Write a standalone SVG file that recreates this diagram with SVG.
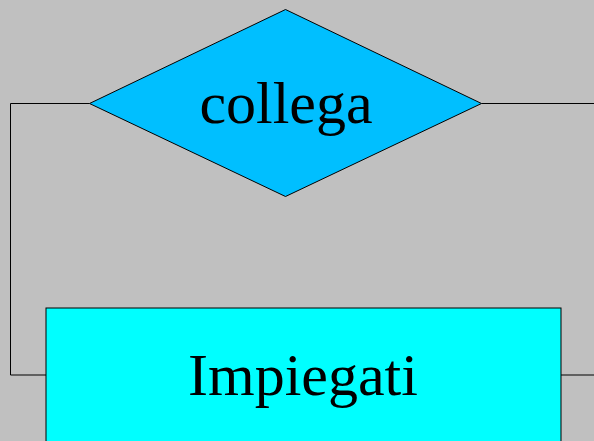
<svg xmlns="http://www.w3.org/2000/svg" width="594" height="441" viewBox="0 0 594 441">
<style>
.conn{fill:none;stroke:#000;stroke-width:1}
.lbl{font-family:"Liberation Serif","Times New Roman",serif;font-size:60px;fill:#000;text-anchor:middle}
</style>
<rect x="0" y="0" width="594" height="441" fill="#C0C0C0"/>
<g id="connectors">
<polyline class="conn" points="89.5,103.5 10.5,103.5 10.5,375 46,375"/>
<line class="conn" x1="481.5" y1="103.5" x2="594" y2="103.5"/>
<line class="conn" x1="561" y1="375" x2="594" y2="375"/>
</g>
<g id="collega">
<polygon points="89.5,103.5 285.5,9.5 481.5,103.5 285.5,196.5" fill="#00BFFF" stroke="#000" stroke-width="1"/>
<text class="lbl" x="286" y="123">collega</text>
</g>
<g id="impiegati">
<rect x="46" y="308" width="515" height="140" fill="#00FFFF" stroke="#000" stroke-width="1"/>
<text class="lbl" x="303" y="395">Impiegati</text>
</g>
</svg>
